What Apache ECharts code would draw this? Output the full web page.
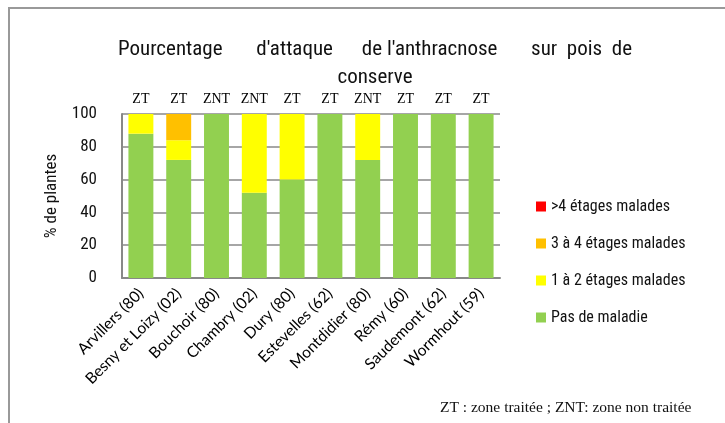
<!DOCTYPE html>
<html>
<head>
<meta charset="utf-8">
<script src="https://cdn.jsdelivr.net/npm/echarts@6/dist/echarts.min.js"></script>
<style>
html, body { margin: 0; padding: 0; background: #fff; }
#main { width: 725px; height: 423px; }
</style>
</head>
<body>
<div id="main"></div>
<script>
// donnees
var sites = ['Arvillers (80)', 'Besny et Loizy (02)', 'Bouchoir (80)', 'Chambry (02)', 'Dury (80)',
    'Estevelles (62)', 'Montdidier (80)', 'Rémy (60)', 'Saudemont (62)', 'Wormhout (59)'];
var zones = ['ZT', 'ZT', 'ZNT', 'ZNT', 'ZT', 'ZT', 'ZNT', 'ZT', 'ZT', 'ZT'];
var pasMaladie = [88, 72, 100, 52, 60, 100, 72, 100, 100, 100];
var etages12 = [12, 12, 0, 48, 40, 0, 28, 0, 0, 0];
var etages34 = [0, 16, 0, 0, 0, 0, 0, 0, 0, 0];
var etages4plus = [0, 0, 0, 0, 0, 0, 0, 0, 0, 0];
var yTicks = [0, 20, 40, 60, 80, 100];

var narrow = "'Liberation Sans Narrow', 'Arial Narrow', 'Roboto Condensed', Roboto, sans-serif";
var myChart = echarts.init(document.getElementById('main'));

function serie(name, data, color) {
    return {
        name: name,
        type: 'bar',
        stack: 'total',
        barWidth: '66%',
        itemStyle: { color: color },
        data: data
    };
}

option = {
    animation: false,
    title: {
        text: "Pourcentage       d'attaque      de l'anthracnose       sur  pois  de\nconserve",
        left: 370,
        top: 31,
        textAlign: 'center',
        textStyle: { fontFamily: narrow, fontSize: 21, fontWeight: 'normal', color: '#111', lineHeight: 28 }
    },
    legend: {
        orient: 'vertical',
        left: 531,
        top: 193,
        itemWidth: 10,
        itemHeight: 10,
        itemGap: 20,
        icon: 'rect',
        data: ['>4 étages malades', '3 à 4 étages malades', '1 à 2 étages malades', 'Pas de maladie'],
        textStyle: { fontFamily: narrow, fontSize: 16, color: '#111', lineHeight: 17 }
    },
    grid: {
        left: 122,
        right: 225,
        top: 114,
        bottom: 145
    },
    xAxis: [{
        type: 'category',
        data: sites,
        axisLine: { lineStyle: { color: '#888', width: 2 } },
        axisTick: { show: false },
        axisLabel: { rotate: 45, interval: 0, margin: 13, fontFamily: 'Lato, sans-serif', fontSize: 15.5, color: '#000' }
    }, {
        type: 'category',
        position: 'top',
        data: zones,
        axisLine: { show: false },
        axisTick: { show: false },
        axisLabel: { interval: 0, margin: 8, fontFamily: "'Liberation Serif', serif", fontSize: 14, color: '#000' }
    }],
    yAxis: {
        type: 'value',
        min: yTicks[0],
        max: yTicks[yTicks.length - 1],
        interval: 20,
        name: '% de plantes',
        nameLocation: 'middle',
        nameGap: 62,
        nameTextStyle: { fontFamily: narrow, fontSize: 17, color: '#111' },
        axisLine: { show: true, lineStyle: { color: '#888', width: 2 } },
        axisTick: { show: false },
        splitLine: { lineStyle: { color: '#888', width: 1.5 } },
        axisLabel: { margin: 25, fontFamily: narrow, fontSize: 17, color: '#111' }
    },
    graphic: [{
        type: 'polyline',
        shape: { points: [[9, 423], [9, 8], [725, 8]] },
        style: { stroke: '#999', lineWidth: 2, fill: null }
    }, {
        type: 'text',
        left: 440,
        top: 400,
        style: { text: 'ZT : zone traitée ; ZNT: zone non traitée', font: "15.5px 'Liberation Serif', serif", fill: '#111' }
    }],
    series: [
        serie('Pas de maladie', pasMaladie, '#92D050'),
        serie('1 à 2 étages malades', etages12, '#FFFF00'),
        serie('3 à 4 étages malades', etages34, '#FFC000'),
        serie('>4 étages malades', etages4plus, '#FF0000')
    ]
};

myChart.setOption(option);
</script>
</body>
</html>
